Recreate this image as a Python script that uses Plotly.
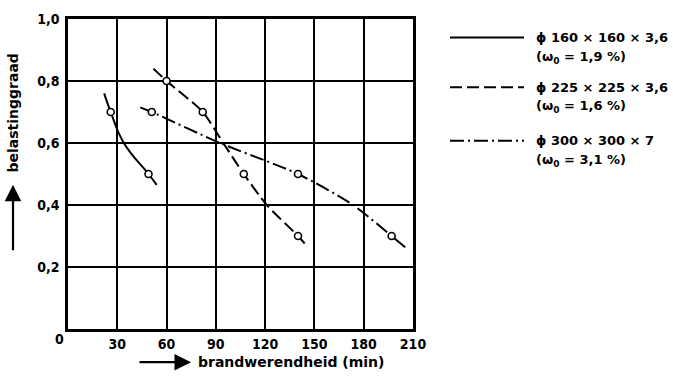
import plotly.graph_objects as go

# Load ratio vs. fire resistance for three square hollow sections
x_ticks = [30, 60, 90, 120, 150, 180, 210]
x_tick_text = ["30", "60", "90", "120", "150", "180", "210"]
y_ticks = [0.2, 0.4, 0.6, 0.8, 1.0]
y_tick_text = ["0,2", "0,4", "0,6", "0,8", "1,0"]

# curve paths (smooth lines)
s1_curve_x = [22, 26, 34, 49, 54]
s1_curve_y = [0.76, 0.70, 0.60, 0.50, 0.465]
s2_curve_x = [52, 60, 82, 94.5, 107, 121, 140, 145]
s2_curve_y = [0.84, 0.80, 0.70, 0.60, 0.50, 0.40, 0.30, 0.27]
s3_curve_x = [44, 51, 92.5, 140, 173.5, 197, 207]
s3_curve_y = [0.715, 0.70, 0.60, 0.50, 0.40, 0.30, 0.256]

# measured points (open circles)
s1_pts_x = [26, 49]
s1_pts_y = [0.70, 0.50]
s2_pts_x = [60, 82, 107, 140]
s2_pts_y = [0.80, 0.70, 0.50, 0.30]
s3_pts_x = [51, 140, 197]
s3_pts_y = [0.70, 0.50, 0.30]

series_names = ["ϕ 160 × 160 × 3,6", "ϕ 225 × 225 × 3,6", "ϕ 300 × 300 × 7"]
series_notes = ["(ω<sub>0</sub> = 1,9 %)", "(ω<sub>0</sub> = 1,6 %)", "(ω<sub>0</sub> = 3,1 %)"]

FONT = "DejaVu Sans"
TICK_FONT = "DejaVu Sans Condensed, DejaVu Sans"
dashes = ["solid", "12px,5px", "14px,4px,2px,4px"]
smooth = [1.3, 0.7, 0.7]

fig = go.Figure()
curves = [(s1_curve_x, s1_curve_y), (s2_curve_x, s2_curve_y), (s3_curve_x, s3_curve_y)]
points = [(s1_pts_x, s1_pts_y), (s2_pts_x, s2_pts_y), (s3_pts_x, s3_pts_y)]
for (cx, cy), (px_, py_), dash, sm, name in zip(curves, points, dashes, smooth, series_names):
    fig.add_trace(go.Scatter(x=cx, y=cy, mode="lines", name=name,
                             line=dict(color="black", width=2, dash=dash, shape="spline", smoothing=sm),
                             showlegend=False, hoverinfo="skip"))
    fig.add_trace(go.Scatter(x=px_, y=py_, mode="markers", showlegend=False,
                             marker=dict(symbol="circle", size=7, color="white",
                                         line=dict(color="black", width=1.6))))

# plot area in pixels: x 68..413, y 11..329
L, R, T, B = 68, 413, 11, 329
W, H = 673, 376
def px(x):
    return (x - L) / (R - L)
def py(y):
    return (B - y) / (B - T)

shapes = []
annotations = []
# legend
leg_rows = [30, 81, 136]
for row, dash, name, note in zip(leg_rows, dashes, series_names, series_notes):
    shapes.append(dict(type="line", xref="paper", yref="paper",
                       x0=px(450), x1=px(524), y0=py(row), y1=py(row),
                       line=dict(color="black", width=2, dash=dash)))
    annotations.append(dict(text=f"<b>{name}</b>", xref="paper", yref="paper",
                            x=px(534), y=py(row), xanchor="left", yanchor="middle",
                            showarrow=False, font=dict(size=13, family=FONT, color="black")))
    annotations.append(dict(text=f"<b>{note}</b>", xref="paper", yref="paper",
                            x=px(534), y=py(row + 20), xanchor="left", yanchor="middle",
                            showarrow=False, font=dict(size=13, family=FONT, color="black")))

# axis titles with arrows
annotations.append(dict(text="<b>belastinggraad</b>", xref="paper", yref="paper",
                        x=px(13), y=py(108), textangle=-90, showarrow=False,
                        xanchor="center", yanchor="middle",
                        font=dict(size=14, family=FONT, color="black")))
annotations.append(dict(text="", xref="paper", yref="paper", x=px(13), y=py(181),
                        ax=0, ay=67, showarrow=True, arrowhead=2, arrowsize=1.5,
                        arrowwidth=2.2, arrowcolor="black", standoff=0))
annotations.append(dict(text="<b>brandwerendheid (min)</b>", xref="paper", yref="paper",
                        x=px(196), y=py(363), xanchor="left", yanchor="middle",
                        showarrow=False, font=dict(size=14, family=FONT, color="black")))
annotations.append(dict(text="", xref="paper", yref="paper", x=px(191), y=py(363),
                        ax=-53, ay=0, showarrow=True, arrowhead=2, arrowsize=1.5,
                        arrowwidth=2.2, arrowcolor="black", standoff=0))
annotations.append(dict(text="<b>0</b>", xref="paper", yref="paper",
                        x=px(59), y=py(339), xanchor="center", yanchor="middle",
                        showarrow=False, font=dict(size=14, family=TICK_FONT, color="black")))

fig.update_layout(
    width=W, height=H,
    margin=dict(l=L, r=W - R, t=T, b=H - B),
    plot_bgcolor="white", paper_bgcolor="white",
    shapes=shapes, annotations=annotations,
    font=dict(family=FONT, size=13, color="black"),
)
fig.update_xaxes(range=[0, 210], tickvals=x_ticks, ticktext=[f"<b>{t}</b>" for t in x_tick_text],
                 tickfont=dict(family=TICK_FONT, size=14),
                 showgrid=True, gridcolor="black", gridwidth=1.5,
                 showline=True, linecolor="black", linewidth=2.5, mirror=True,
                 ticks="", zeroline=False, ticklabelstandoff=0)
fig.update_yaxes(range=[0, 1.0], tickvals=y_ticks, ticktext=[f"<b>{t}</b>" for t in y_tick_text],
                 tickfont=dict(family=TICK_FONT, size=14),
                 showgrid=True, gridcolor="black", gridwidth=1.5,
                 showline=True, linecolor="black", linewidth=2.5, mirror=True,
                 ticks="", zeroline=False, ticklabelstandoff=3)

fig.write_html("out.html")
